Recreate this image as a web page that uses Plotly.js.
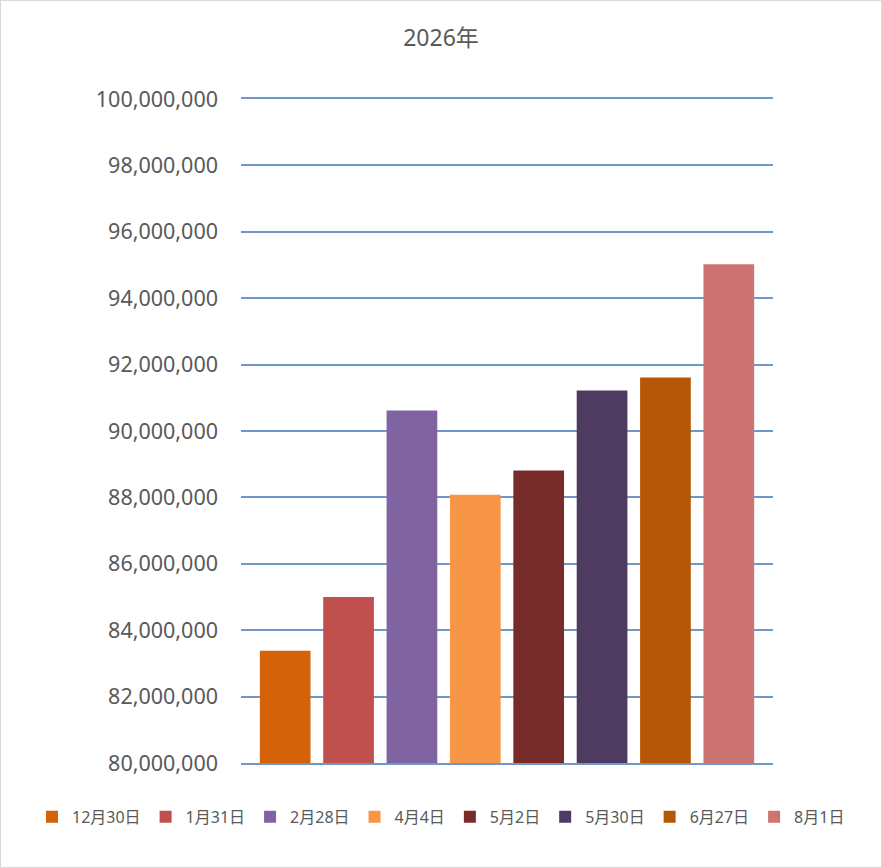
<!DOCTYPE html>
<html><head><meta charset="utf-8">
<script src="https://cdn.plot.ly/plotly-3.0.1.min.js"></script>
<style>html,body{margin:0;padding:0;background:#fff}#c{width:880px;height:866px;border:1px solid #d9d9d9}</style>
</head><body><div id="c"></div>
<script>
const dates = ["12月30日","1月31日","2月28日","4月4日","5月2日","5月30日","6月27日","8月1日"];
const values = [83380000, 85000000, 90620000, 88080000, 88810000, 91220000, 91610000, 95020000];
const colors = ["#D46208","#C0504D","#8064A2","#F79646","#772C2A","#4D3B62","#B65708","#CD7371"];
const category = ["2026年"];
const yTicks = [80000000,82000000,84000000,86000000,88000000,90000000,92000000,94000000,96000000,98000000,100000000];

const traces = dates.map((d,i)=>({type:"bar", name:d, x:category, y:[values[i]], marker:{color:colors[i]}, hoverinfo:"name+y"}));
const fnt = "Noto Sans, Noto Sans CJK JP, sans-serif";
Plotly.newPlot("c", traces, {
  width:880, height:866,
  margin:{l:0, r:0, t:98, b:104, autoexpand:false},
  paper_bgcolor:"#fff", plot_bgcolor:"#fff",
  title:{text:"2026年", x:0.5, xanchor:"center", y:0.957, yanchor:"middle", font:{family:fnt, size:23, color:"#595959"}},
  barmode:"group", bargap:0.047, bargroupgap:0.2,
  showlegend:true,
  legend:{orientation:"h", x:0.5, xanchor:"center", y:-0.081, yanchor:"middle", font:{family:fnt, size:16, color:"#595959"}, itemwidth:30, tracegroupgap:0},
  xaxis:{domain:[240/880, 772/880], showticklabels:false, showgrid:false, showline:true, mirror:true, linecolor:"#6F98C9", linewidth:2, ticks:"", fixedrange:true},
  yaxis:{range:[80000000,100000000], tickvals:yTicks, tickformat:",d", showgrid:true, gridcolor:"#6F98C9", gridwidth:2, zeroline:false, showline:false, ticks:"", ticklabelstandoff:22, tickfont:{family:fnt, size:21.5, color:"#595959"}}
}, {displayModeBar:false, staticPlot:true});
</script></body></html>
